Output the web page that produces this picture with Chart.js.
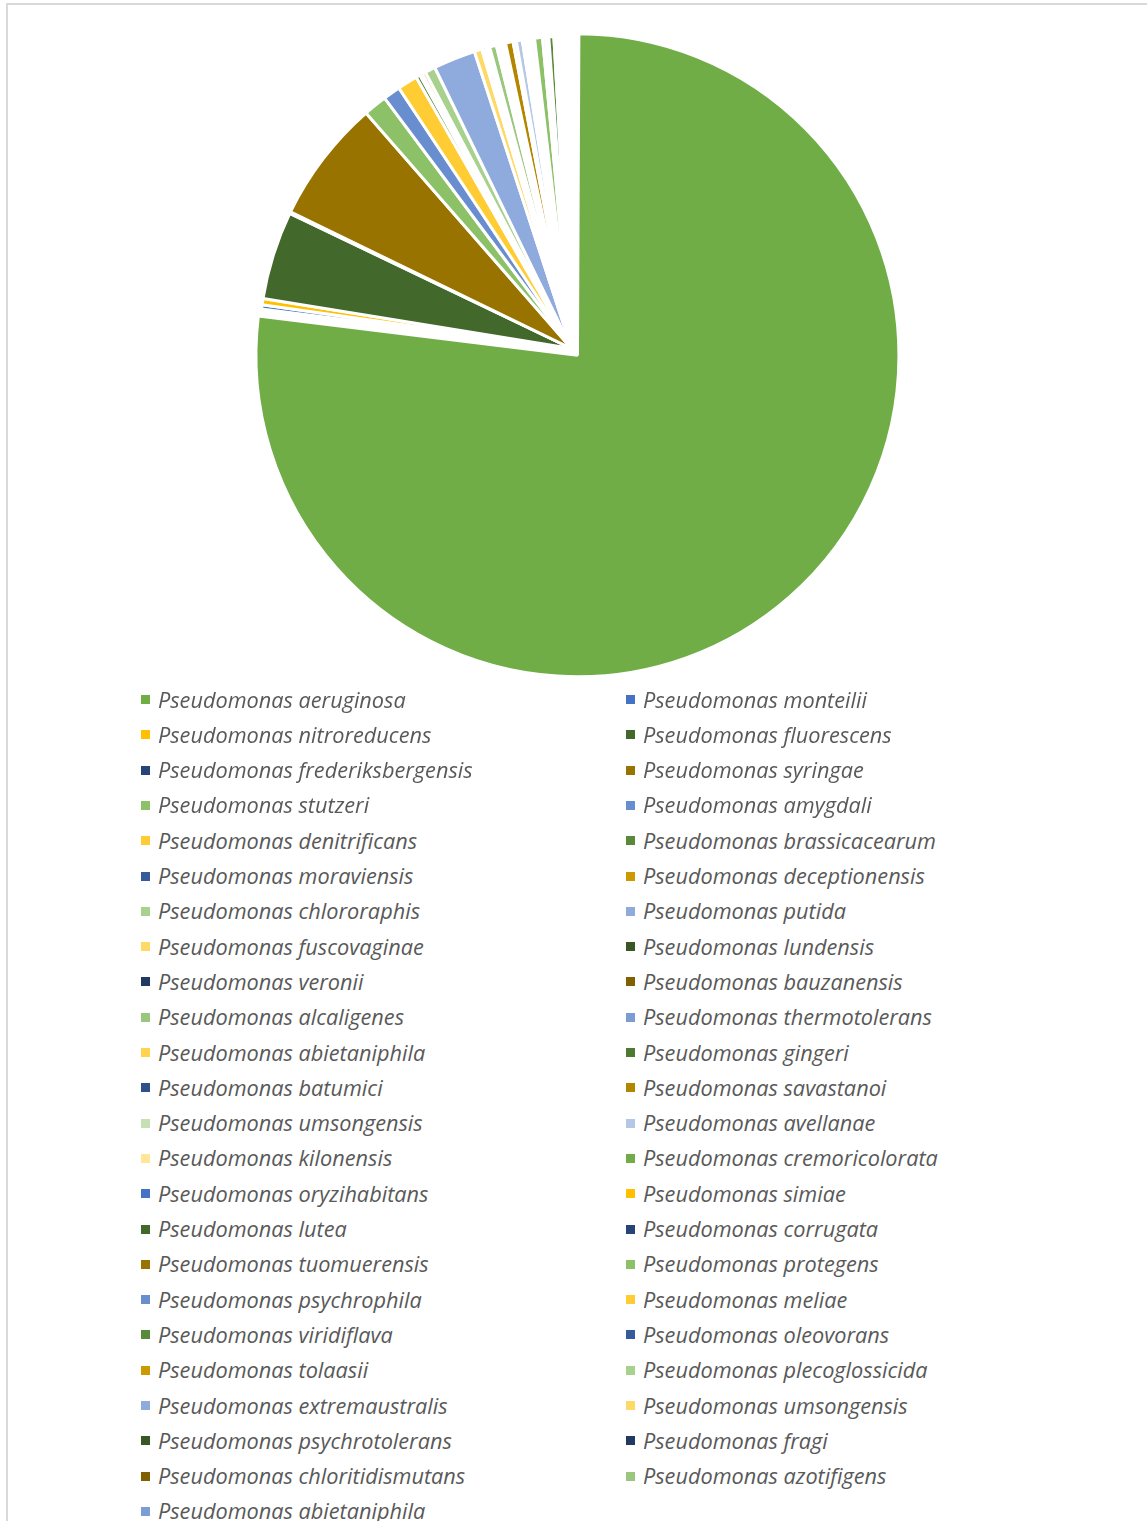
<!DOCTYPE html>
<html>
<head>
<meta charset="utf-8">
<script src="https://cdn.jsdelivr.net/npm/chart.js@4.4.0/dist/chart.umd.min.js"></script>
<style>
html,body{margin:0;padding:0;background:#fff;}
#wrap{position:relative;width:1147px;height:1521px;overflow:hidden;background:#fff;}
#frame{position:absolute;left:6px;top:3px;width:1200px;height:1600px;border-top:2px solid #D9D9D9;border-left:2px solid #D9D9D9;}
#pie{position:absolute;left:0;top:0;}
.lg{position:absolute;height:26px;line-height:26px;font-family:"Open Sans";font-style:italic;font-size:21.7px;color:#595959;white-space:nowrap;}
.mk{position:absolute;width:9px;height:9px;}
</style>
</head>
<body>
<div id="wrap">
  <div id="frame"></div>
  <canvas id="pie" width="1143" height="697"></canvas>
  <div id="legend"></div>
</div>
<script>
// ---- data (share of isolates, %) ----
const categories = [
  "Pseudomonas aeruginosa", "Pseudomonas monteilii", "Pseudomonas nitroreducens",
  "Pseudomonas fluorescens", "Pseudomonas frederiksbergensis", "Pseudomonas syringae",
  "Pseudomonas stutzeri", "Pseudomonas amygdali", "Pseudomonas denitrificans",
  "Pseudomonas brassicacearum", "Pseudomonas moraviensis", "Pseudomonas deceptionensis",
  "Pseudomonas chlororaphis", "Pseudomonas putida", "Pseudomonas fuscovaginae",
  "Pseudomonas lundensis", "Pseudomonas veronii", "Pseudomonas bauzanensis",
  "Pseudomonas alcaligenes", "Pseudomonas thermotolerans", "Pseudomonas abietaniphila",
  "Pseudomonas gingeri", "Pseudomonas batumici", "Pseudomonas savastanoi",
  "Pseudomonas umsongensis", "Pseudomonas avellanae", "Pseudomonas kilonensis",
  "Pseudomonas cremoricolorata", "Pseudomonas oryzihabitans", "Pseudomonas simiae",
  "Pseudomonas lutea", "Pseudomonas corrugata", "Pseudomonas tuomuerensis",
  "Pseudomonas protegens", "Pseudomonas psychrophila", "Pseudomonas meliae",
  "Pseudomonas viridiflava", "Pseudomonas oleovorans", "Pseudomonas tolaasii",
  "Pseudomonas plecoglossicida", "Pseudomonas extremaustralis", "Pseudomonas umsongensis",
  "Pseudomonas psychrotolerans", "Pseudomonas fragi", "Pseudomonas chloritidismutans",
  "Pseudomonas azotifigens", "Pseudomonas abietaniphila"
];
const shares = [
  77.06, 0.22, 0.32,
  4.57, 0.08, 6.38,
  1.22, 0.89, 1.04,
  0.22, 0.14, 0.17,
  0.54, 2.18, 0.39,
  0.14, 0.14, 0.14,
  0.35, 0.12, 0.12,
  0.12, 0.12, 0.39,
  0.17, 0.31, 0.09,
  0.09, 0.09, 0.09,
  0.09, 0.09, 0.09,
  0.41, 0.16, 0.16,
  0.26, 0.09, 0.09,
  0.09, 0.09, 0.09,
  0.09, 0.09, 0.09,
  0.09, 0.09
];
const sliceColors = [
  "#70AD47", "#4472C4", "#FFC000",
  "#43682B", "#264478", "#997300",
  "#8CC168", "#698ED0", "#FFCD33",
  "#5A8A39", "#365B9D", "#CC9A00",
  "#A9D18E", "#8FAADC", "#FFD966",
  "#385724", "#223962", "#806000",
  "#9BC67E", "#7C9CD6", "#FFD34D",
  "#4E7932", "#305089", "#B38600",
  "#C5E0B4", "#B4C7E7", "#FFE699",
  "#70AD47", "#4472C4", "#FFC000",
  "#43682B", "#264478", "#997300",
  "#8CC168", "#698ED0", "#FFCD33",
  "#5A8A39", "#365B9D", "#CC9A00",
  "#A9D18E", "#8FAADC", "#FFD966",
  "#385724", "#223962", "#806000",
  "#9BC67E", "#7C9CD6"
];

const chart = new Chart(document.getElementById('pie'), {
  type: 'pie',
  data: {
    labels: categories,
    datasets: [{
      data: shares,
      backgroundColor: sliceColors,
      borderColor: '#FFFFFF',
      borderWidth: 3,
      offset: (ctx) => ctx.dataIndex === 0 ? 36 : 0
    }]
  },
  options: {
    responsive: false,
    animation: false,
    devicePixelRatio: 1,
    radius: 312.5,
    layout: { padding: 0 },
    plugins: {
      legend: { display: false },
      tooltip: { enabled: false },
      title: { display: false }
    }
  }
});

// ---- HTML legend built from the chart's own legend items ----
const legendEl = document.getElementById('legend');
let items;
try {
  items = chart.options.plugins.legend.labels.generateLabels(chart);
} catch (e) { items = null; }
if (!items || !items.length) {
  items = categories.map((t, i) => ({ text: t, fillStyle: sliceColors[i] }));
}
const firstCenter = 699.5, rowStep = 35.3;
const markerX = [141, 626], textX = [158, 643];
items.forEach((it, k) => {
  const col = k % 2, row = Math.floor(k / 2);
  const cy = firstCenter + row * rowStep;
  const mk = document.createElement('div');
  mk.className = 'mk';
  mk.style.left = markerX[col] + 'px';
  mk.style.top = (cy - 4.5) + 'px';
  mk.style.background = it.fillStyle;
  legendEl.appendChild(mk);
  const tx = document.createElement('div');
  tx.className = 'lg';
  tx.style.left = textX[col] + 'px';
  tx.style.top = (cy - 13) + 'px';
  tx.textContent = it.text;
  legendEl.appendChild(tx);
});
</script>
</body>
</html>
